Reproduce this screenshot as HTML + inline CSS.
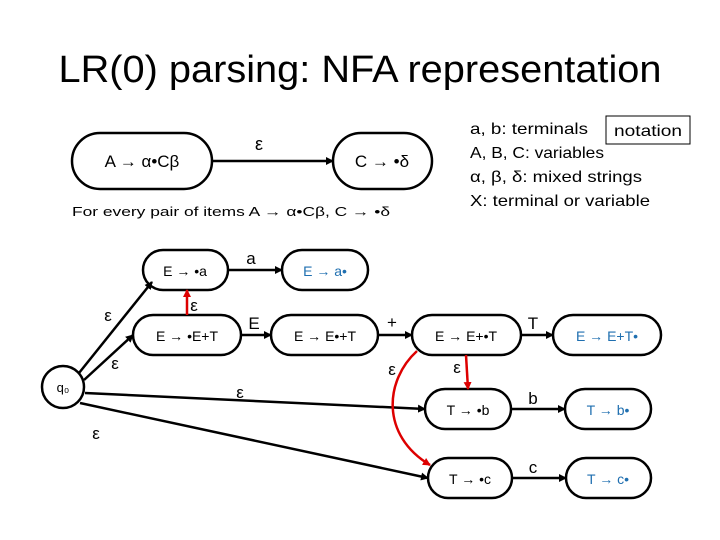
<!DOCTYPE html>
<html><head><meta charset="utf-8"><style>
html,body{margin:0;padding:0;background:#fff;}
svg{display:block;font-family:"Liberation Sans","DejaVu Sans",sans-serif;}
</style></head><body>
<svg width="720" height="540" viewBox="0 0 720 540" xmlns="http://www.w3.org/2000/svg">
<defs>
<marker id="ab" markerWidth="8" markerHeight="8" refX="7" refY="4" orient="auto" markerUnits="userSpaceOnUse"><path d="M0,0 L8,4 L0,8 z" fill="#000"/></marker>
<marker id="ar" markerWidth="8" markerHeight="8" refX="7" refY="4" orient="auto" markerUnits="userSpaceOnUse"><path d="M0,0 L8,4 L0,8 z" fill="#d00"/></marker>
</defs>
<text x="360" y="82" font-size="38" text-anchor="middle" textLength="603" lengthAdjust="spacingAndGlyphs">LR(0) parsing: NFA representation</text>

<g fill="none" stroke="#000" stroke-width="2.5">
<rect x="72" y="133" width="140" height="56" rx="28"/>
<rect x="333" y="133" width="99" height="56" rx="28"/>
</g>
<line x1="212" y1="161" x2="333" y2="161" stroke="#000" stroke-width="2.5" marker-end="url(#ab)"/>
<text x="255" y="150" font-size="18">ε</text>
<text x="142" y="167" font-size="17" text-anchor="middle">A → α•Cβ</text>
<text x="382" y="167" font-size="17" text-anchor="middle">C → •δ</text>
<text x="72" y="216" font-size="13" textLength="318" lengthAdjust="spacingAndGlyphs">For every pair of items A → α•Cβ, C → •δ</text>

<g font-size="16">
<text x="470" y="134" textLength="118" lengthAdjust="spacingAndGlyphs">a, b: terminals</text>
<text x="470" y="158" textLength="134" lengthAdjust="spacingAndGlyphs">A, B, C: variables</text>
<text x="470" y="182" textLength="172" lengthAdjust="spacingAndGlyphs">α, β, δ: mixed strings</text>
<text x="470" y="206" textLength="180" lengthAdjust="spacingAndGlyphs">X: terminal or variable</text>
</g>
<rect x="606" y="116" width="84" height="28" fill="none" stroke="#000" stroke-width="1"/>
<text x="614" y="136" font-size="16" textLength="68" lengthAdjust="spacingAndGlyphs">notation</text>

<g fill="none" stroke="#000" stroke-width="2.5">
<rect x="143" y="250" width="85" height="40" rx="20"/>
<rect x="282" y="250" width="86" height="40" rx="20"/>
<rect x="133" y="315" width="108" height="40" rx="20"/>
<rect x="271" y="315" width="107" height="40" rx="20"/>
<rect x="412" y="315" width="109" height="40" rx="20"/>
<rect x="553" y="315" width="108" height="40" rx="20"/>
<rect x="425" y="389" width="86" height="40" rx="20"/>
<rect x="565" y="389" width="86" height="40" rx="20"/>
<rect x="428" y="458" width="84" height="40" rx="20"/>
<rect x="566" y="458" width="85" height="40" rx="20"/>
<ellipse cx="63" cy="387" rx="21" ry="21"/>
</g>
<g stroke="#000" stroke-width="2.5" marker-end="url(#ab)">
<line x1="228" y1="270" x2="282" y2="270"/>
<line x1="241" y1="335" x2="271" y2="335"/>
<line x1="378" y1="335" x2="412" y2="335"/>
<line x1="521" y1="335" x2="553" y2="335"/>
<line x1="511" y1="409" x2="565" y2="409"/>
<line x1="512" y1="478" x2="566" y2="478"/>
<line x1="79" y1="373" x2="152" y2="282"/>
<line x1="84" y1="380" x2="133" y2="335"/>
<line x1="85" y1="393" x2="425" y2="409"/>
<line x1="80" y1="403" x2="428" y2="478"/>
</g>
<g stroke="#d00" stroke-width="2.5" fill="none" marker-end="url(#ar)">
<line x1="187" y1="315" x2="187" y2="290"/>
<line x1="466" y1="355" x2="468" y2="389"/>
<path d="M417,351 C385,380 380,435 430,465"/>
</g>
<g font-size="14" text-anchor="middle">
<text x="185" y="276">E → •a</text>
<text x="325" y="276" fill="#1f6fb0">E → a•</text>
<text x="187" y="341">E → •E+T</text>
<text x="325" y="341">E → E•+T</text>
<text x="466" y="341">E → E+•T</text>
<text x="607" y="341" fill="#1f6fb0">E → E+T•</text>
<text x="468" y="415">T → •b</text>
<text x="608" y="415" fill="#1f6fb0">T → b•</text>
<text x="470" y="484">T → •c</text>
<text x="608" y="484" fill="#1f6fb0">T → c•</text>
<text x="63" y="392" font-size="13">q₀</text>
</g>
<g font-size="17" text-anchor="middle">
<text x="108" y="321">ε</text>
<text x="115" y="369">ε</text>
<text x="240" y="398">ε</text>
<text x="96" y="439">ε</text>
<text x="194" y="311">ε</text>
<text x="392" y="375">ε</text>
<text x="457" y="373">ε</text>
<text x="251" y="264">a</text>
<text x="254" y="329">E</text>
<text x="392" y="328">+</text>
<text x="533" y="329">T</text>
<text x="533" y="404">b</text>
<text x="533" y="473">c</text>
</g>
</svg>
</body></html>
